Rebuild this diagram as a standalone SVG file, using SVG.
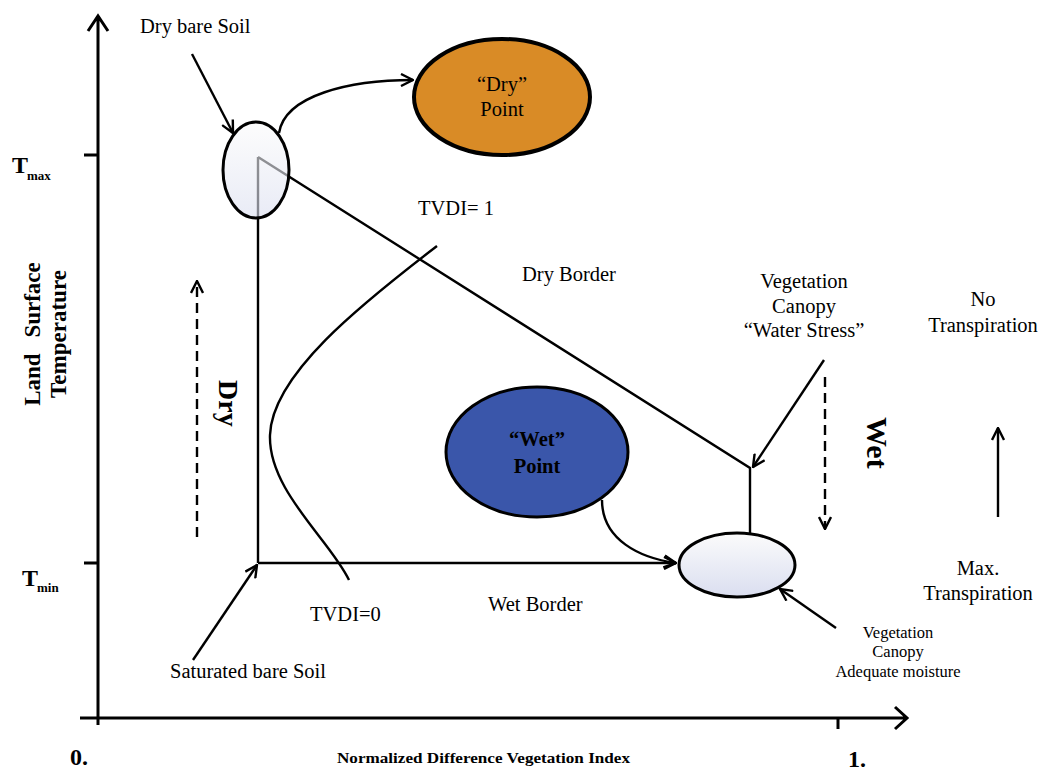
<svg xmlns="http://www.w3.org/2000/svg" width="1040" height="772" viewBox="0 0 1040 772">
<style>
.t{font-family:"Liberation Serif","Times New Roman",serif;font-size:20.5px;fill:#000}
.b{font-weight:bold}
.ax{stroke:#000;stroke-width:3;fill:none}
.ln{stroke:#000;stroke-width:2.4;fill:none}
.ar{stroke:#000;stroke-width:2.4;fill:none;marker-end:url(#ah)}
.da{stroke:#000;stroke-width:2.4;fill:none;stroke-dasharray:10 6;marker-end:url(#ah)}
</style>
<defs>
<marker id="ah" viewBox="0 0 14 14" refX="13" refY="7" markerWidth="14" markerHeight="14" markerUnits="userSpaceOnUse" orient="auto">
<path d="M1,1 L13,7 L1,13" fill="none" stroke="#000" stroke-width="2.4"/>
</marker>
<linearGradient id="g" x1="0" y1="0" x2="0" y2="1">
<stop offset="0" stop-color="#fbfbfb"/>
<stop offset="1" stop-color="#dadef0"/>
</linearGradient>
</defs>
<g id="axes">
<path class="ax" d="M98,725 V16 M88,31 L98,16 L108,31"/>
<path class="ax" d="M80,718 H906 M895,707 L907,718 L895,729"/>
<path class="ax" d="M84,155 H98 M84,563 H98 M838,718 V729"/>
<text class="t b" x="12" y="173" style="font-size:24px">T</text>
<text class="t b" x="27" y="180" style="font-size:13px">max</text>
<text class="t b" x="22" y="586" style="font-size:24px">T</text>
<text class="t b" x="37" y="592" style="font-size:13px">min</text>
<text class="t b" x="70" y="765" style="font-size:24px">0.</text>
<text class="t b" x="848" y="767" style="font-size:24px">1.</text>
<text class="t b" x="337" y="763" style="font-size:15px" textLength="293" lengthAdjust="spacingAndGlyphs">Normalized Difference Vegetation Index</text>
<text class="t b" transform="translate(40,334) rotate(-90)" text-anchor="middle" style="font-size:23px" word-spacing="10">Land Surface</text>
<text class="t b" transform="translate(66,334) rotate(-90)" text-anchor="middle" style="font-size:23px">Temperature</text>
</g>
<g id="connectors">
<path class="ln" d="M258,157 V563 M258,157 L750,468 V533"/>
<path class="ar" d="M258,563 H676"/>
<path class="ar" d="M602,500 C602,540 640,558 676,563"/>
<path class="ar" d="M279,133 C285,95 350,80 413,80"/>
<path class="ar" d="M192,54 L233,133"/>
<path class="ar" d="M193,660 L257,565"/>
<path class="ar" d="M824,360 L753,467"/>
<path class="ar" d="M836,628 L780,589"/>
<path class="ln" d="M437,246 C360,305 272,375 270,435 C268,490 330,540 349,580"/>
<path class="da" d="M197,537 V281"/>
<path class="da" d="M825,377 V529"/>
<path class="ar" d="M998,517 V428"/>
</g>
<g id="dry-bare-soil">
<ellipse cx="256" cy="170" rx="33" ry="48" fill="url(#g)" fill-opacity="0.6" stroke="#000" stroke-width="3"/>
<text class="t" x="140" y="33">Dry bare Soil</text>
</g>
<g id="dry-point">
<ellipse cx="502" cy="97" rx="88" ry="58" fill="#d98b26" stroke="#000" stroke-width="4"/>
<text class="t" x="502" y="91" text-anchor="middle">“Dry”</text>
<text class="t" x="502" y="116" text-anchor="middle">Point</text>
</g>
<g id="wet-point">
<ellipse cx="537" cy="452" rx="91" ry="65" fill="#3a56aa" stroke="#000" stroke-width="3"/>
<text class="t b" x="537" y="446" text-anchor="middle">“Wet”</text>
<text class="t b" x="537" y="473" text-anchor="middle">Point</text>
</g>
<g id="vegetation-adequate">
<ellipse cx="737" cy="565" rx="58" ry="32" fill="url(#g)" stroke="#000" stroke-width="3"/>
<text class="t" x="898" y="638" text-anchor="middle" style="font-size:16.5px">Vegetation</text>
<text class="t" x="898" y="657" text-anchor="middle" style="font-size:16.5px">Canopy</text>
<text class="t" x="898" y="677" text-anchor="middle" style="font-size:16.5px">Adequate moisture</text>
</g>
<g id="labels">
<text class="t" x="418" y="215">TVDI= 1</text>
<text class="t" x="310" y="621">TVDI=0</text>
<text class="t" x="522" y="281">Dry Border</text>
<text class="t" x="488" y="611">Wet Border</text>
<text class="t" x="170" y="678">Saturated bare Soil</text>
<text class="t" x="804" y="288" text-anchor="middle">Vegetation</text>
<text class="t" x="804" y="313" text-anchor="middle">Canopy</text>
<text class="t" x="804" y="337" text-anchor="middle">“Water Stress”</text>
<text class="t" x="983" y="306" text-anchor="middle">No</text>
<text class="t" x="983" y="332" text-anchor="middle">Transpiration</text>
<text class="t" x="978" y="575" text-anchor="middle">Max.</text>
<text class="t" x="978" y="600" text-anchor="middle">Transpiration</text>
<text class="t b" transform="translate(219,380) rotate(90)" style="font-size:28px">Dry</text>
<text class="t b" transform="translate(867,417) rotate(90)" style="font-size:30px">Wet</text>
</g>
</svg>
